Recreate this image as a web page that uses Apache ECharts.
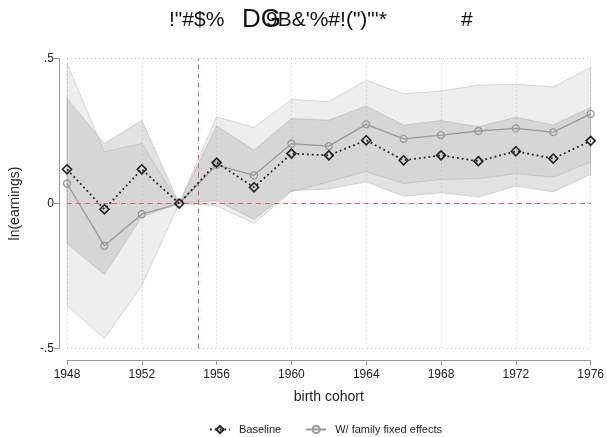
<!DOCTYPE html>
<html>
<head>
<meta charset="utf-8">
<script src="https://cdn.jsdelivr.net/npm/echarts@6/dist/echarts.min.js"></script>
<style>html,body{margin:0;padding:0;background:#fff}#c{width:607px;height:437px}</style>
</head>
<body>
<div id="c"></div>
<script>
const years = [1948,1950,1952,1954,1956,1958,1960,1962,1964,1966,1968,1970,1972,1974,1976];
const baseline = [0.118,-0.020,0.118,0,0.141,0.056,0.172,0.166,0.218,0.149,0.166,0.146,0.180,0.155,0.216];
const familyFE = [0.069,-0.146,-0.037,0,0.133,0.097,0.206,0.198,0.273,0.223,0.236,0.250,0.259,0.246,0.309];
const baseLo = [-0.138,-0.245,-0.046,0,0.010,-0.055,0.045,0.050,0.075,0.025,0.037,0.022,0.060,0.040,0.101];
const baseHi = [0.362,0.207,0.287,0,0.268,0.184,0.293,0.287,0.336,0.270,0.286,0.265,0.297,0.271,0.331];
const feLo = [-0.351,-0.466,-0.282,0,-0.008,-0.068,0.040,0.075,0.110,0.069,0.083,0.086,0.103,0.091,0.143];
const feHi = [0.483,0.178,0.207,0,0.299,0.262,0.359,0.351,0.425,0.378,0.388,0.408,0.411,0.402,0.469];
const yTickLabels = {'-0.5':'-.5','0':'0','0.5':'.5'};
const seriesNames = ['Baseline','W/ family fixed effects'];
const titleParts = ['!"#$%', 'DG', '9B&\'%#!(")"\'*', '#'];
const refYear = 1955;
const refValue = 0;

const FONT = 'Liberation Sans, Arial, sans-serif';
const RED = '#dc6074';

function band(lo, hi, fill, name, z) {
  return {
    name: name,
    type: 'custom',
    silent: true,
    z: z,
    data: years.map((y, i) => [y, hi[i], lo[i]]),
    encode: { x: 0, y: [1, 2] },
    renderItem: function (params, api) {
      if (params.dataIndex !== 0) return;
      const pts = [];
      for (let i = 0; i < years.length; i++) pts.push(api.coord([years[i], hi[i]]));
      for (let i = years.length - 1; i >= 0; i--) pts.push(api.coord([years[i], lo[i]]));
      return {
        type: 'polygon',
        shape: { points: pts },
        style: { fill: fill, stroke: 'rgba(150,150,150,0.35)', lineWidth: 1 }
      };
    }
  };
}

const chart = echarts.init(document.getElementById('c'), null, { renderer: 'canvas' });
chart.setOption({
  animation: false,
  backgroundColor: '#ffffff',
  textStyle: { fontFamily: FONT },
  title: [
    { text: titleParts[0], left: 164, top: 5, textStyle: { fontFamily: FONT, fontSize: 21, fontWeight: 'normal', color: '#111' } },
    { text: titleParts[1], left: 237, top: 2, textStyle: { fontFamily: FONT, fontSize: 26, fontWeight: 'normal', color: '#111' } },
    { text: titleParts[2], left: 261, top: 5, textStyle: { fontFamily: FONT, fontSize: 21, fontWeight: 'normal', color: '#111' } },
    { text: titleParts[3], left: 456, top: 5, textStyle: { fontFamily: FONT, fontSize: 21, fontWeight: 'normal', color: '#111' } }
  ],
  grid: { left: 66, right: 13, top: 58.5, bottom: 88.5, containLabel: false },
  legend: {
    data: seriesNames,
    left: 204,
    top: 419,
    itemWidth: 20,
    itemHeight: 9,
    itemGap: 24,
    textStyle: { fontFamily: FONT, fontSize: 11, color: '#222', padding: [0, 0, 0, 4] }
  },
  xAxis: {
    type: 'value',
    min: 1948, max: 1976, interval: 4,
    offset: 11.5,
    name: 'birth cohort',
    nameLocation: 'middle',
    nameGap: 30,
    nameTextStyle: { fontFamily: FONT, fontSize: 14, color: '#222' },
    axisLine: { show: true, onZero: false, lineStyle: { color: '#999', width: 1 } },
    axisTick: { show: true, length: 5, lineStyle: { color: '#999' } },
    axisLabel: { fontFamily: FONT, fontSize: 12, color: '#222', margin: 9, formatter: v => String(v) },
    splitLine: { show: true, lineStyle: { color: '#c8c8c8', type: [1, 3], width: 1 } }
  },
  yAxis: {
    type: 'value',
    min: -0.5, max: 0.5, interval: 0.5,
    offset: 8,
    name: 'ln(earnings)',
    nameLocation: 'middle',
    nameGap: 37,
    nameRotate: 90,
    nameTextStyle: { fontFamily: FONT, fontSize: 14, color: '#222' },
    axisLine: { show: true, onZero: false, lineStyle: { color: '#999', width: 1 } },
    axisTick: { show: true, length: 5, lineStyle: { color: '#999' } },
    axisLabel: {
      fontFamily: FONT, fontSize: 12, color: '#222', margin: 5,
      formatter: v => yTickLabels[String(Math.round(v * 10) / 10)] || String(v)
    },
    splitLine: { show: true, lineStyle: { color: '#c8c8c8', type: [1, 3], width: 1 } }
  },
  series: [
    band(feLo, feHi, 'rgba(160,160,160,0.18)', 'feBand', 1),
    band(baseLo, baseHi, 'rgba(160,160,160,0.30)', 'baseBand', 2),
    {
      name: 'refLines',
      type: 'line',
      z: 3,
      color: RED,
      data: [],
      showSymbol: false,
      markLine: {
        silent: true,
        symbol: 'none',
        label: { show: false },
        emphasis: { disabled: true },
        lineStyle: { color: RED, type: [5, 4], width: 1, opacity: 1 },
        data: [
          { yAxis: refValue },
          { xAxis: refYear }
        ]
      }
    },
    {
      name: seriesNames[1],
      type: 'line',
      z: 4,
      data: years.map((y, i) => [y, familyFE[i]]),
      symbol: 'circle',
      symbolSize: 7,
      lineStyle: { color: '#9a9a9a', width: 1.3 },
      itemStyle: { color: 'rgba(255,255,255,0)', borderColor: '#9a9a9a', borderWidth: 1.3 }
    },
    {
      name: seriesNames[0],
      type: 'line',
      z: 5,
      data: years.map((y, i) => [y, baseline[i]]),
      symbol: 'diamond',
      symbolSize: 9,
      lineStyle: { color: '#222', width: 1.8, type: [1.8, 3] },
      itemStyle: { color: 'rgba(255,255,255,0)', borderColor: '#222', borderWidth: 1.6 }
    }
  ]
});
</script>
</body>
</html>
